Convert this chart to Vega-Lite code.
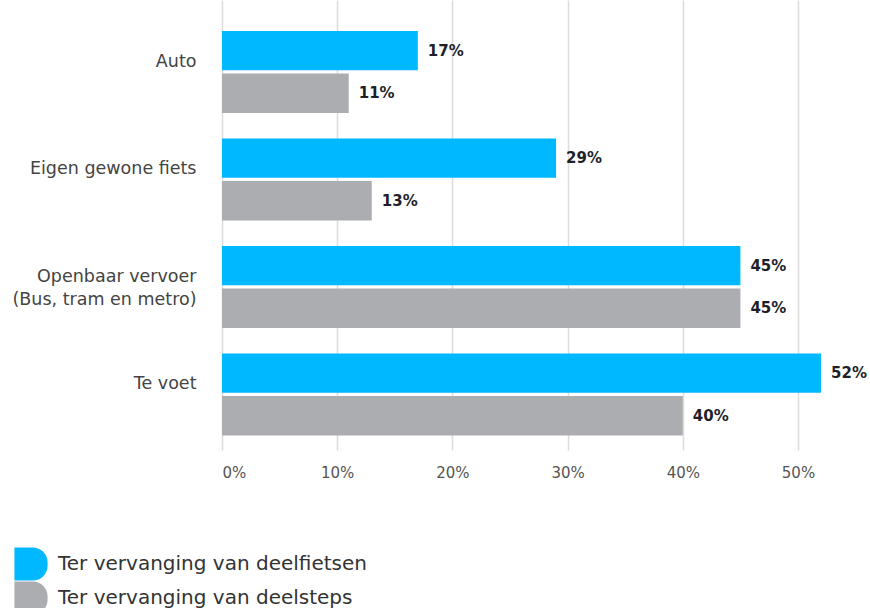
{
  "$schema": "https://vega.github.io/schema/vega-lite/v6.json",
  "autosize": "none",
  "width": 648,
  "height": 450,
  "padding": {"left": 222, "top": 0, "right": 0, "bottom": 158},
  "background": "white",
  "config": {
    "view": {"stroke": null},
    "font": "DejaVu Sans"
  },
  "data": {
    "values": [
      {"categorie": "Auto", "serie": "Ter vervanging van deelfietsen", "waarde": 0.17},
      {"categorie": "Auto", "serie": "Ter vervanging van deelsteps", "waarde": 0.11},
      {"categorie": "Eigen gewone fiets", "serie": "Ter vervanging van deelfietsen", "waarde": 0.29},
      {"categorie": "Eigen gewone fiets", "serie": "Ter vervanging van deelsteps", "waarde": 0.13},
      {"categorie": "Openbaar vervoer (Bus, tram en metro)", "serie": "Ter vervanging van deelfietsen", "waarde": 0.45},
      {"categorie": "Openbaar vervoer (Bus, tram en metro)", "serie": "Ter vervanging van deelsteps", "waarde": 0.45},
      {"categorie": "Te voet", "serie": "Ter vervanging van deelfietsen", "waarde": 0.52},
      {"categorie": "Te voet", "serie": "Ter vervanging van deelsteps", "waarde": 0.40}
    ]
  },
  "encoding": {
    "y": {
      "field": "categorie",
      "type": "nominal",
      "sort": null,
      "title": null,
      "scale": {"paddingInner": 0.237, "paddingOuter": 0.2115, "align": 0.68},
      "axis": {
        "domain": false,
        "ticks": false,
        "labelPadding": 26,
        "labelFontSize": 17.5,
        "labelColor": "#444444",
        "labelOffset": -10,
        "labelLineHeight": 23,
        "labelLimit": 220,
        "labelExpr": "datum.value == 'Openbaar vervoer (Bus, tram en metro)' ? ['Openbaar vervoer', '(Bus, tram en metro)'] : datum.label"
      }
    },
    "yOffset": {
      "field": "serie",
      "type": "nominal",
      "scale": {"paddingInner": 0.075, "paddingOuter": 0}
    },
    "x": {
      "field": "waarde",
      "type": "quantitative",
      "title": null,
      "scale": {"domain": [0, 0.5625], "nice": false, "zero": true},
      "axis": {
        "values": [0, 0.1, 0.2, 0.3, 0.4, 0.5],
        "format": ".0%",
        "domain": false,
        "ticks": false,
        "grid": true,
        "gridColor": "#dcdcdc",
        "gridWidth": 1.5,
        "labelPadding": 15,
        "labelFontSize": 15,
        "labelColor": "#555555"
      }
    }
  },
  "layer": [
    {
      "mark": {"type": "bar"},
      "encoding": {
        "color": {
          "field": "serie",
          "type": "nominal",
          "title": null,
          "scale": {
            "domain": ["Ter vervanging van deelfietsen", "Ter vervanging van deelsteps"],
            "range": ["#00B8FF", "#ABADB1"]
          },
          "legend": {
            "orient": "none",
            "legendX": -208,
            "legendY": 547,
            "padding": 0,
            "offset": 0,
            "rowPadding": 0,
            "symbolType": "M-1,-1H0.1A0.9,0.9 0 0 1 1,-0.1V0.1A0.9,0.9 0 0 1 0.1,1H-1Z",
            "symbolSize": 1100,
            "symbolStrokeWidth": 0,
            "symbolOpacity": 1,
            "labelFontSize": 20,
            "labelColor": "#333333",
            "labelOffset": 10,
            "labelLimit": 400
          }
        }
      }
    },
    {
      "mark": {
        "type": "text",
        "align": "left",
        "baseline": "middle",
        "dx": 10,
        "fontWeight": "bold",
        "fontSize": 15,
        "color": "#1f1f2a"
      },
      "encoding": {
        "text": {"field": "waarde", "type": "quantitative", "format": ".0%"}
      }
    }
  ]
}
